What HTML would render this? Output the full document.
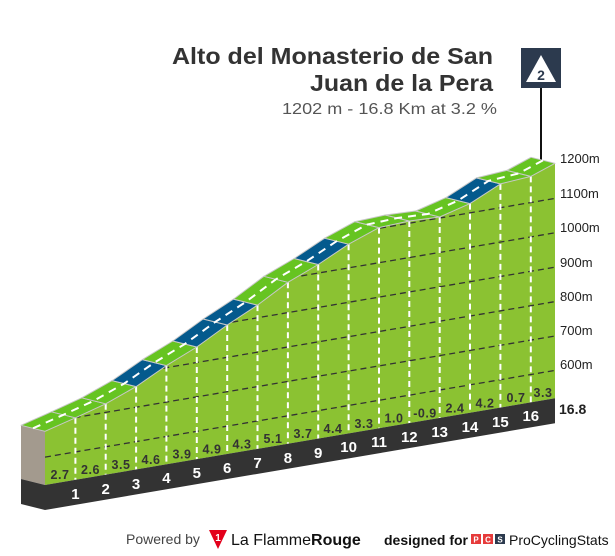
<!DOCTYPE html>
<html><head><meta charset="utf-8"><style>
body{margin:0;background:#fff;width:615px;height:556px;overflow:hidden}
svg{display:block}
</style></head><body>
<svg width="615" height="556" viewBox="0 0 615 556" xmlns="http://www.w3.org/2000/svg" font-family="Liberation Sans, DejaVu Sans, sans-serif">
<defs>
<clipPath id="cp"><polygon points="45,431.3 75.4,417.8 105.7,403.8 136.1,386.6 166.4,365.6 196.8,347 227.2,325 257.5,305.1 287.9,282.3 318.2,264.5 348.6,244.2 379,227.6 409.3,221 439.7,217 470,203.6 500.4,183.9 530.8,176.4 555,163.3 555,398.3 45,485"/></clipPath>
</defs>
<!-- title -->
<text x="172" y="64" textLength="321" lengthAdjust="spacingAndGlyphs" font-size="23" font-weight="bold" fill="#333">Alto del Monasterio de San</text>
<text x="310" y="91" textLength="183" lengthAdjust="spacingAndGlyphs" font-size="23" font-weight="bold" fill="#333">Juan de la Pera</text>
<text x="282" y="114" textLength="215" lengthAdjust="spacingAndGlyphs" font-size="16" fill="#555">1202 m - 16.8 Km at 3.2 %</text>
<!-- icon -->
<line x1="541" y1="88" x2="541" y2="160" stroke="#111" stroke-width="2"/>
<rect x="521" y="48" width="40" height="40" fill="#2c3a4e"/>
<polygon points="541,55 556,82 526,82" fill="#fff"/>
<text x="541" y="80" text-anchor="middle" font-size="14" font-weight="bold" fill="#2c3a4e">2</text>
<!-- side face -->
<polygon points="45,431.3 75.4,417.8 105.7,403.8 136.1,386.6 166.4,365.6 196.8,347 227.2,325 257.5,305.1 287.9,282.3 318.2,264.5 348.6,244.2 379,227.6 409.3,221 439.7,217 470,203.6 500.4,183.9 530.8,176.4 555,163.3 555,398.3 45,485" fill="#8bc232"/>
<polygon points="21,425.3 45,431.3 45,485 21,479" fill="#a39a8e"/>
<!-- grid -->
<g clip-path="url(#cp)" stroke="#333" stroke-width="1.3" stroke-dasharray="6,4">
<line x1="45" y1="457.1" x2="555" y2="370.4"/>
<line x1="45" y1="422.7" x2="555" y2="336"/>
<line x1="45" y1="388.3" x2="555" y2="301.6"/>
<line x1="45" y1="353.9" x2="555" y2="267.2"/>
<line x1="45" y1="319.5" x2="555" y2="232.8"/>
<line x1="45" y1="285.1" x2="555" y2="198.4"/>
</g>
<!-- verticals -->
<g stroke="#fff" stroke-width="2" stroke-dasharray="6,4">
<line x1="75.4" y1="417.8" x2="75.4" y2="479.8"/>
<line x1="105.7" y1="403.8" x2="105.7" y2="474.7"/>
<line x1="136.1" y1="386.6" x2="136.1" y2="469.5"/>
<line x1="166.4" y1="365.6" x2="166.4" y2="464.4"/>
<line x1="196.8" y1="347" x2="196.8" y2="459.2"/>
<line x1="227.2" y1="325" x2="227.2" y2="454"/>
<line x1="257.5" y1="305.1" x2="257.5" y2="448.9"/>
<line x1="287.9" y1="282.3" x2="287.9" y2="443.7"/>
<line x1="318.2" y1="264.5" x2="318.2" y2="438.6"/>
<line x1="348.6" y1="244.2" x2="348.6" y2="433.4"/>
<line x1="379" y1="227.6" x2="379" y2="428.2"/>
<line x1="409.3" y1="221" x2="409.3" y2="423.1"/>
<line x1="439.7" y1="217" x2="439.7" y2="417.9"/>
<line x1="470" y1="203.6" x2="470" y2="412.8"/>
<line x1="500.4" y1="183.9" x2="500.4" y2="407.6"/>
<line x1="530.8" y1="176.4" x2="530.8" y2="402.4"/>
</g>
<!-- ribbon -->
<g stroke="#c8c8c8" stroke-width="1" stroke-linejoin="round">
<polygon fill="#66c421" points="45,431.3 75.4,417.8 51.4,411.8 21,425.3"/>
<polygon fill="#66c421" points="75.4,417.8 105.7,403.8 81.7,397.8 51.4,411.8"/>
<polygon fill="#66c421" points="105.7,403.8 136.1,386.6 112.1,380.6 81.7,397.8"/>
<polygon fill="#045a8d" points="136.1,386.6 166.4,365.6 142.4,359.6 112.1,380.6"/>
<polygon fill="#66c421" points="166.4,365.6 196.8,347 172.8,341 142.4,359.6"/>
<polygon fill="#045a8d" points="196.8,347 227.2,325 203.2,319 172.8,341"/>
<polygon fill="#045a8d" points="227.2,325 257.5,305.1 233.5,299.1 203.2,319"/>
<polygon fill="#66c421" points="257.5,305.1 287.9,282.3 263.9,276.3 233.5,299.1"/>
<polygon fill="#66c421" points="287.9,282.3 318.2,264.5 294.2,258.5 263.9,276.3"/>
<polygon fill="#045a8d" points="318.2,264.5 348.6,244.2 324.6,238.2 294.2,258.5"/>
<polygon fill="#66c421" points="348.6,244.2 379,227.6 355,221.6 324.6,238.2"/>
<polygon fill="#66c421" points="379,227.6 409.3,221 385.3,215 355,221.6"/>
<polygon fill="#66c421" points="409.3,221 439.7,217 415.7,211 385.3,215"/>
<polygon fill="#66c421" points="439.7,217 470,203.6 446,197.6 415.7,211"/>
<polygon fill="#045a8d" points="470,203.6 500.4,183.9 476.4,177.9 446,197.6"/>
<polygon fill="#66c421" points="500.4,183.9 530.8,176.4 506.8,170.4 476.4,177.9"/>
<polygon fill="#66c421" points="530.8,176.4 555,163.3 531,157.3 506.8,170.4"/>
</g>
<polyline fill="none" stroke="#fff" stroke-width="2" stroke-dasharray="8,6" points="33,428.3 63.4,414.8 93.7,400.8 124.1,383.6 154.4,362.6 184.8,344 215.2,322 245.5,302.1 275.9,279.3 306.2,261.5 336.6,241.2 367,224.6 397.3,218 427.7,214 458,200.6 488.4,180.9 518.8,173.4 543,160.3"/>
<!-- black band -->
<polygon points="21,479 45,485 555,398.3 555,423.3 45,510 21,504" fill="#333"/>
<!-- grade labels -->
<g font-size="12.5" font-weight="bold" fill="#333" text-anchor="middle" letter-spacing="0.5">
<text x="60" y="479">2.7</text><text x="90.5" y="474">2.6</text><text x="121" y="469">3.5</text><text x="151" y="464">4.6</text>
<text x="182" y="458.5">3.9</text><text x="212" y="453.5">4.9</text><text x="242" y="448.5">4.3</text><text x="273" y="443">5.1</text>
<text x="303" y="438">3.7</text><text x="333" y="433">4.4</text><text x="364" y="428">3.3</text><text x="394" y="422.5">1.0</text>
<text x="425" y="417.5">-0.9</text><text x="455" y="412.5">2.4</text><text x="485" y="407.5">4.2</text><text x="516" y="402">0.7</text>
<text x="543" y="397">3.3</text>
</g>
<!-- km numbers -->
<g font-size="15" font-weight="bold" fill="#fff" text-anchor="middle">
<text x="75.4" y="499">1</text><text x="105.7" y="494">2</text><text x="136.1" y="489">3</text><text x="166.4" y="483">4</text>
<text x="196.8" y="478">5</text><text x="227.2" y="473">6</text><text x="257.5" y="468">7</text><text x="287.9" y="463">8</text>
<text x="318.2" y="458">9</text><text x="348.6" y="452">10</text><text x="379" y="447">11</text><text x="409.3" y="442">12</text>
<text x="439.7" y="437">13</text><text x="470" y="432">14</text><text x="500.4" y="427">15</text><text x="530.8" y="421">16</text>
</g>
<!-- right labels -->
<g font-size="13" fill="#222">
<text x="560" y="163">1200m</text><text x="560" y="198">1100m</text><text x="560" y="232">1000m</text>
<text x="560" y="267">900m</text><text x="560" y="301">800m</text><text x="560" y="335">700m</text><text x="560" y="369">600m</text>
</g>
<text x="559" y="414" font-size="14" font-weight="bold" fill="#222">16.8</text>
<!-- footer -->
<text x="126" y="544" font-size="14" fill="#444">Powered by</text>
<polygon points="209,530 227,530 218,549" fill="#e3001b"/>
<text x="218" y="541" font-size="10" font-weight="bold" fill="#fff" text-anchor="middle">1</text>
<text x="231" y="545" font-size="16" fill="#111">La Flamme<tspan font-weight="bold">Rouge</tspan></text>
<text x="384" y="545" font-size="14" font-weight="bold" fill="#111">designed for</text>
<rect x="471" y="534" width="10" height="10" fill="#e63b3b"/><text x="476" y="542.5" font-size="8" font-weight="bold" fill="#fff" text-anchor="middle">P</text>
<rect x="483" y="534" width="10" height="10" fill="#e63b3b"/><text x="488" y="542.5" font-size="8" font-weight="bold" fill="#fff" text-anchor="middle">C</text>
<rect x="495" y="534" width="10" height="10" fill="#2c3a4e"/><text x="500" y="542.5" font-size="8" font-weight="bold" fill="#fff" text-anchor="middle">S</text>
<text x="509" y="545" font-size="14" fill="#111">ProCyclingStats</text>
</svg>
</body></html>
